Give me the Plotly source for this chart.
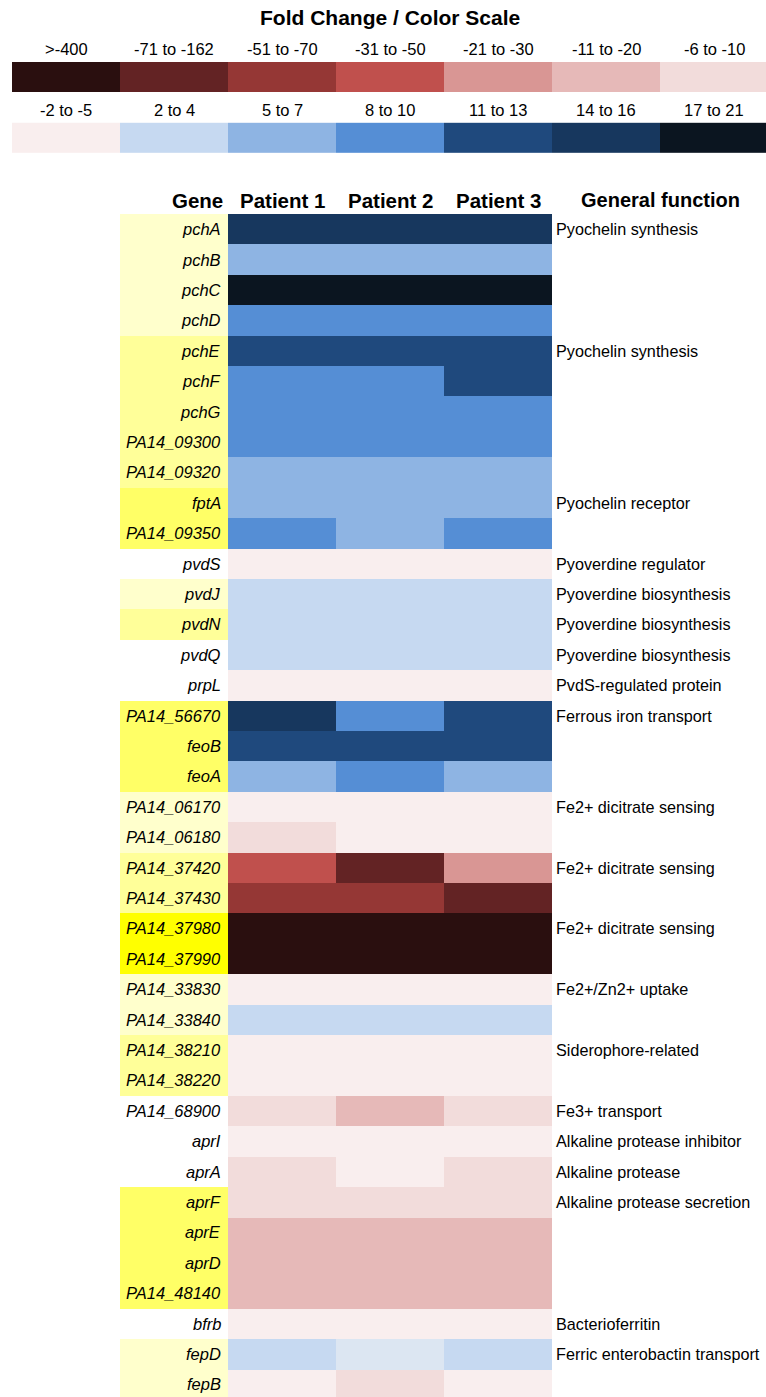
import plotly.graph_objects as go

# ---------------- data ----------------
genes = ["pchA", "pchB", "pchC", "pchD", "pchE", "pchF", "pchG", "PA14_09300", "PA14_09320",
         "fptA", "PA14_09350", "pvdS", "pvdJ", "pvdN", "pvdQ", "prpL", "PA14_56670", "feoB",
         "feoA", "PA14_06170", "PA14_06180", "PA14_37420", "PA14_37430", "PA14_37980",
         "PA14_37990", "PA14_33830", "PA14_33840", "PA14_38210", "PA14_38220", "PA14_68900",
         "aprI", "aprA", "aprF", "aprE", "aprD", "PA14_48140", "bfrb", "fepD", "fepB"]

patient1 = ["14 to 16", "5 to 7", "17 to 21", "8 to 10", "11 to 13", "8 to 10", "8 to 10", "8 to 10", "5 to 7",
            "5 to 7", "8 to 10", "-2 to -5", "2 to 4", "2 to 4", "2 to 4", "-2 to -5", "14 to 16", "11 to 13",
            "5 to 7", "-2 to -5", "-6 to -10", "-31 to -50", "-51 to -70", ">-400",
            ">-400", "-2 to -5", "2 to 4", "-2 to -5", "-2 to -5", "-6 to -10",
            "-2 to -5", "-6 to -10", "-6 to -10", "-11 to -20", "-11 to -20", "-11 to -20", "-2 to -5", "2 to 4", "-2 to -5"]

patient2 = ["14 to 16", "5 to 7", "17 to 21", "8 to 10", "11 to 13", "8 to 10", "8 to 10", "8 to 10", "5 to 7",
            "5 to 7", "5 to 7", "-2 to -5", "2 to 4", "2 to 4", "2 to 4", "-2 to -5", "8 to 10", "11 to 13",
            "8 to 10", "-2 to -5", "-2 to -5", "-71 to -162", "-51 to -70", ">-400",
            ">-400", "-2 to -5", "2 to 4", "-2 to -5", "-2 to -5", "-11 to -20",
            "-2 to -5", "-2 to -5", "-6 to -10", "-11 to -20", "-11 to -20", "-11 to -20", "-2 to -5", "<2", "-6 to -10"]

patient3 = ["14 to 16", "5 to 7", "17 to 21", "8 to 10", "11 to 13", "11 to 13", "8 to 10", "8 to 10", "5 to 7",
            "5 to 7", "8 to 10", "-2 to -5", "2 to 4", "2 to 4", "2 to 4", "-2 to -5", "11 to 13", "11 to 13",
            "5 to 7", "-2 to -5", "-2 to -5", "-21 to -30", "-71 to -162", ">-400",
            ">-400", "-2 to -5", "2 to 4", "-2 to -5", "-2 to -5", "-6 to -10",
            "-2 to -5", "-6 to -10", "-6 to -10", "-11 to -20", "-11 to -20", "-11 to -20", "-2 to -5", "2 to 4", "-2 to -5"]

functions = ["Pyochelin synthesis", "", "", "", "Pyochelin synthesis", "", "", "", "",
             "Pyochelin receptor", "", "Pyoverdine regulator", "Pyoverdine biosynthesis",
             "Pyoverdine biosynthesis", "Pyoverdine biosynthesis", "PvdS-regulated protein",
             "Ferrous iron transport", "", "", "Fe2+ dicitrate sensing", "", "Fe2+ dicitrate sensing", "",
             "Fe2+ dicitrate sensing", "", "Fe2+/Zn2+ uptake", "", "Siderophore-related", "",
             "Fe3+ transport", "Alkaline protease inhibitor", "Alkaline protease",
             "Alkaline protease secretion", "", "", "", "Bacterioferritin", "Ferric enterobactin transport", ""]

# highlight level of the gene-name cell (0 = none)
gene_shade = [1, 1, 1, 1, 2, 2, 2, 2, 2,
              3, 3, 0, 1, 2, 0, 0, 3, 3,
              3, 1, 1, 2, 2, 4,
              4, 1, 1, 2, 2, 0,
              0, 0, 3, 3, 3, 3, 0, 1, 1]

patients = ["Patient 1", "Patient 2", "Patient 3"]
scale_row1 = [">-400", "-71 to -162", "-51 to -70", "-31 to -50", "-21 to -30", "-11 to -20", "-6 to -10"]
scale_row2 = ["-2 to -5", "2 to 4", "5 to 7", "8 to 10", "11 to 13", "14 to 16", "17 to 21"]

bin_colors = {
    ">-400": "#2A0F0F",
    "-71 to -162": "#632324",
    "-51 to -70": "#953735",
    "-31 to -50": "#C0504D",
    "-21 to -30": "#D99694",
    "-11 to -20": "#E6B9B8",
    "-6 to -10": "#F2DCDB",
    "-2 to -5": "#F9EEEE",
    "<2": "#DCE6F2",
    "2 to 4": "#C6D9F1",
    "5 to 7": "#8EB4E3",
    "8 to 10": "#558ED5",
    "11 to 13": "#1F497D",
    "14 to 16": "#17375E",
    "17 to 21": "#0B1520",
}
shade_colors = ["#FFFFFF", "#FFFFCC", "#FFFF99", "#FFFF66", "#FFFF00"]

FONT = "Liberation Sans, Arial, sans-serif"

# ---------------- helpers ----------------
bins = list(bin_colors.keys())
nb = len(bins)
bin_idx = {b: k for k, b in enumerate(bins)}


def step_scale(colors):
    n = len(colors)
    cs = []
    for k, c in enumerate(colors):
        cs += [[k / n, c], [(k + 1) / n, c]]
    return cs


fold_scale = step_scale([bin_colors[b] for b in bins])
shade_scale = step_scale(shade_colors)

rows = list(range(len(genes)))
z_main = [[bin_idx[a], bin_idx[b], bin_idx[c]] for a, b, c in zip(patient1, patient2, patient3)]

fig = go.Figure()

# gene name background column
fig.add_trace(go.Heatmap(
    z=[[s] for s in gene_shade], x=[-1], y=rows,
    colorscale=shade_scale, zmin=-0.5, zmax=len(shade_colors) - 0.5,
    showscale=False, hoverinfo="skip"))

# main heatmap
fig.add_trace(go.Heatmap(
    z=z_main, x=list(range(len(patients))), y=rows,
    colorscale=fold_scale, zmin=-0.5, zmax=nb - 0.5,
    showscale=False, hoverinfo="skip"))

# colour-scale swatches (legend)
legend_x = [k - 2 for k in range(len(scale_row1))]
for lab_row, yrow in ((scale_row1, -5), (scale_row2, -3)):
    fig.add_trace(go.Heatmap(
        z=[[bin_idx[b] for b in lab_row]], x=legend_x, y=[yrow],
        colorscale=fold_scale, zmin=-0.5, zmax=nb - 0.5,
        showscale=False, hoverinfo="skip"))

ann = []
ann.append(dict(x=1.0, y=-6.95, text="<b>Fold Change / Color Scale</b>",
                font=dict(size=21, family=FONT, color="black")))
for lab_row, yrow in ((scale_row1, -5.92), (scale_row2, -3.92)):
    for xx, lab in zip(legend_x, lab_row):
        ann.append(dict(x=xx, y=yrow, text=lab, font=dict(size=16.5, family=FONT, color="black")))

# headers
ann.append(dict(x=-0.5, y=-0.96, text="<b>Gene</b>", xanchor="right", xshift=-3,
                font=dict(size=20.5, family=FONT, color="black")))
for k, p in enumerate(patients):
    ann.append(dict(x=k, y=-0.96, text="<b>%s</b>" % p, font=dict(size=20.5, family=FONT, color="black")))
ann.append(dict(x=3.509, y=-0.96, text="<b>General function</b>",
                font=dict(size=20, family=FONT, color="black")))

for i, g in enumerate(genes):
    ann.append(dict(x=-0.5, y=i, text="<i>%s</i>" % g, xanchor="right", xshift=-5,
                    font=dict(size=16.5, family=FONT, color="black")))
    if functions[i]:
        ann.append(dict(x=2.5, y=i, text=functions[i], xanchor="left", xshift=2,
                        font=dict(size=16.2, family=FONT, color="black")))

for a in ann:
    a.setdefault("showarrow", False)
    a.setdefault("xref", "x")
    a.setdefault("yref", "y")

fig.update_layout(
    width=766, height=1397,
    margin=dict(l=0, r=0, t=0, b=0),
    paper_bgcolor="white", plot_bgcolor="white",
    xaxis=dict(range=[-0.5 - 228 / 108, -0.5 + (766 - 228) / 108], visible=False, fixedrange=True),
    yaxis=dict(range=[-0.5 + (1397 - 214) / 30.4, -0.5 - 214 / 30.4], visible=False, fixedrange=True),
    annotations=ann,
    showlegend=False,
)

fig.write_html("out.html",
               config={"displayModeBar": False, "staticPlot": True},
               post_script="document.body.style.margin='0';document.body.style.overflow='hidden';")
